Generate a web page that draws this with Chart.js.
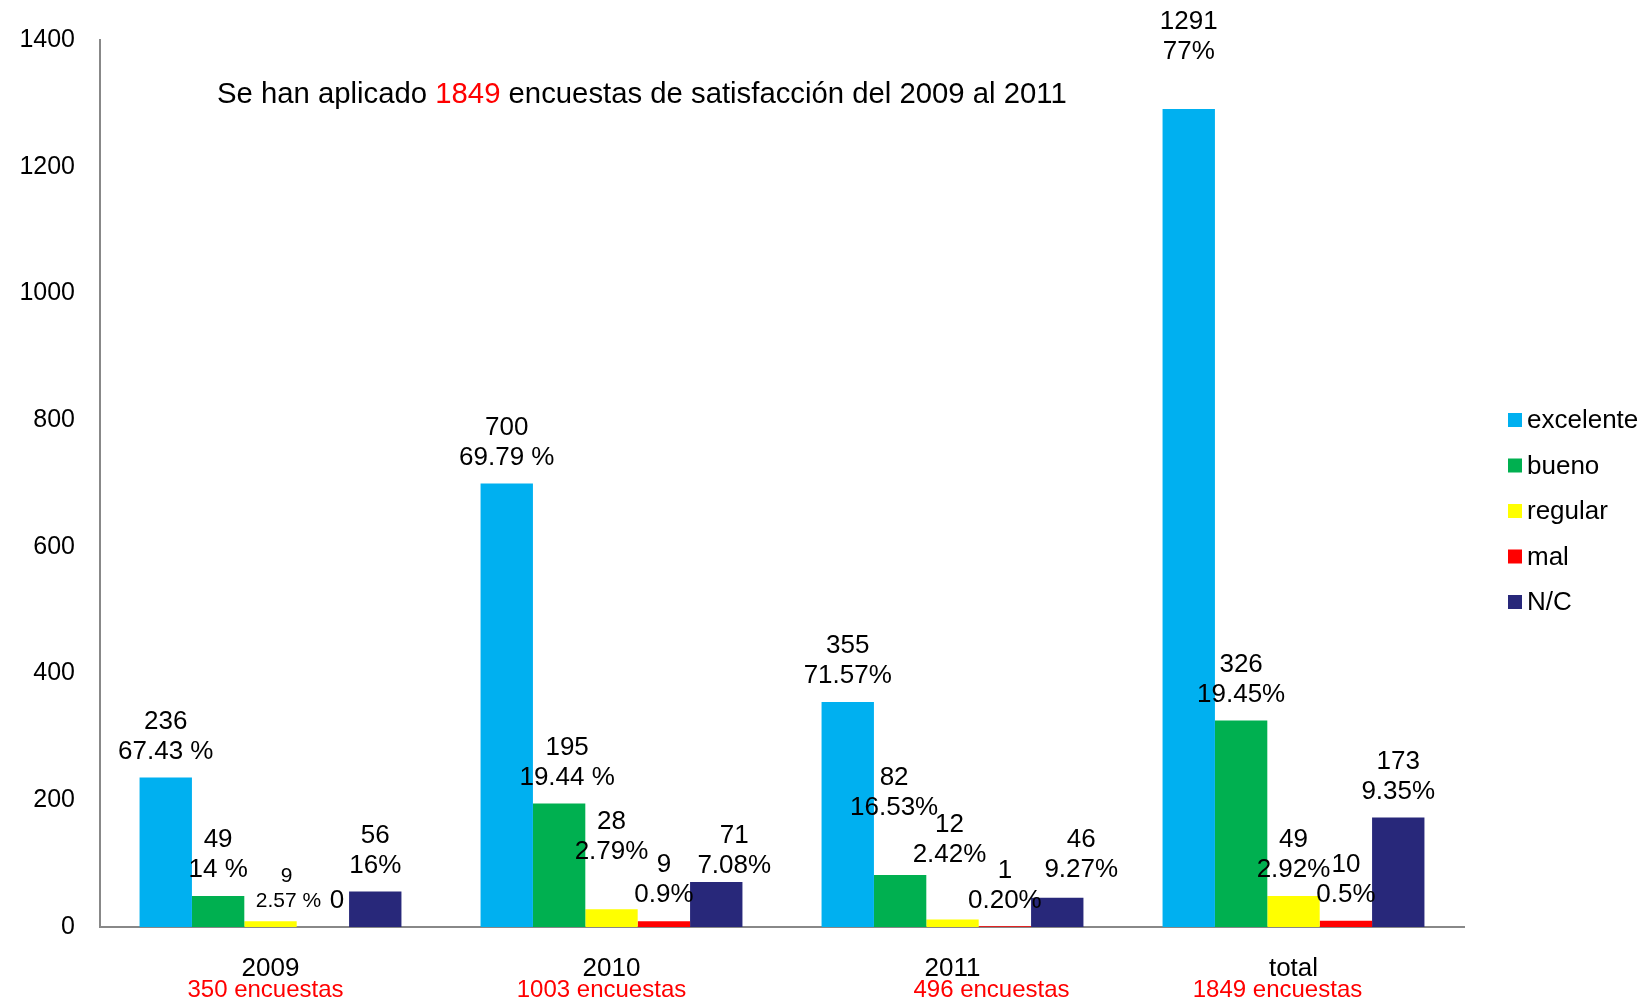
<!DOCTYPE html>
<html>
<head>
<meta charset="utf-8">
<script src="https://cdn.jsdelivr.net/npm/chart.js@4.4.1/dist/chart.umd.min.js"></script>
<style>
  body { margin: 0; background: #fff; }
  canvas { display: block; }
</style>
</head>
<body>
<canvas id="encuestasChart" width="1646" height="1002"></canvas>
<script>
// data
var categories = ["2009", "2010", "2011", "total"];
var encuestas = ["350 encuestas", "1003 encuestas", "496 encuestas", "1849 encuestas"];

var excelente = [236, 700, 355, 1291];
var bueno = [49, 195, 82, 326];
var regular = [9, 28, 12, 49];
var mal = [0, 9, 1, 10];
var nc = [56, 71, 46, 173];

var excelentePct = ["67.43 %", "69.79 %", "71.57%", "77%"];
var buenoPct = ["14 %", "19.44 %", "16.53%", "19.45%"];
var regularPct = ["2.57 %", "2.79%", "2.42%", "2.92%"];
var malPct = ["", "0.9%", "0.20%", "0.5%"];
var ncPct = ["16%", "7.08%", "9.27%", "9.35%"];

var yTicks = [0, 200, 400, 600, 800, 1000, 1200, 1400];

var FONT = '"Liberation Sans", Arial, sans-serif';

// hand placed labels in the original, [dx, dy]
var nudges = {
    "2,0": [20, 0],
    "3,0": [14, 0],
    "1,1": [8, 0],
    "2,1": [0, -31],
    "4,1": [18, 10],
    "1,2": [-6, -41],
    "2,2": [-3, -39],
    "4,2": [24, -2],
    "0,3": [0, -31]
};
var encuestasShift = [-5, -10, 39, -16];

var extrasPlugin = {
    id: "extras",
    afterDatasetsDraw: function(chart) {
        var ctx = chart.ctx;
        ctx.save();
        ctx.fillStyle = "#000";
        ctx.textAlign = "center";
        ctx.textBaseline = "middle";

        chart.data.datasets.forEach(function(ds, i) {
            var meta = chart.getDatasetMeta(i);
            meta.data.forEach(function(bar, j) {
                var n = nudges[i + "," + j] || [0, 0];
                var x = bar.x + n[0];
                var top = bar.y + n[1];
                var pct = ds.pcts[j];
                if (i === 2 && j === 0) {
                    ctx.font = "21px " + FONT;
                    ctx.fillText(ds.data[j], x - 4, top - 45);
                    ctx.fillText(pct, x - 2, top - 20);
                    return;
                }
                ctx.font = "26px " + FONT;
                if (pct === "") {
                    ctx.fillText(ds.data[j], x, top - 26);
                } else {
                    ctx.fillText(ds.data[j], x, top - 56);
                    ctx.fillText(pct, x, top - 26);
                }
            });
        });

        // red counts under the year labels
        var xScale = chart.scales.x;
        ctx.font = "24px " + FONT;
        ctx.fillStyle = "#FF0000";
        encuestas.forEach(function(txt, j) {
            ctx.fillText(txt, xScale.getPixelForValue(j) + encuestasShift[j], 990);
        });

        // title line
        ctx.font = "29.3px " + FONT;
        ctx.textAlign = "left";
        var parts = [["Se han aplicado ", "#000"], ["1849", "#FF0000"], [" encuestas de satisfacción del 2009 al 2011", "#000"]];
        var tx = 217;
        parts.forEach(function(p) {
            ctx.fillStyle = p[1];
            ctx.fillText(p[0], tx, 95);
            tx += ctx.measureText(p[0]).width;
        });

        // legend
        ctx.font = "26px " + FONT;
        chart.data.datasets.forEach(function(ds, i) {
            var cy = 420 + i * 45.5;
            ctx.fillStyle = ds.backgroundColor;
            ctx.fillRect(1508, cy - 7, 14, 14);
            ctx.fillStyle = "#000";
            ctx.fillText(ds.label, 1527, cy + 1);
        });
        ctx.restore();
    }
};

var ctx = document.getElementById("encuestasChart").getContext("2d");
var chart = new Chart(ctx, {
    type: "bar",
    data: {
        labels: categories,
        datasets: [
            { label: "excelente", data: excelente, pcts: excelentePct, backgroundColor: "#00B0F0" },
            { label: "bueno", data: bueno, pcts: buenoPct, backgroundColor: "#00B050" },
            { label: "regular", data: regular, pcts: regularPct, backgroundColor: "#FFFF00" },
            { label: "mal", data: mal, pcts: malPct, backgroundColor: "#FF0000" },
            { label: "N/C", data: nc, pcts: ncPct, backgroundColor: "#28287A" }
        ]
    },
    options: {
        responsive: false,
        animation: false,
        layout: { padding: { left: 0, top: 40, right: 182, bottom: 0 } },
        datasets: {
            bar: { categoryPercentage: 0.768, barPercentage: 1, borderWidth: 0 }
        },
        plugins: {
            legend: { display: false },
            tooltip: { enabled: false }
        },
        scales: {
            x: {
                grid: { display: false, drawTicks: false },
                border: { display: true, color: "#888888", width: 2 },
                ticks: { color: "#000", font: { family: FONT, size: 26 }, padding: 26 },
                afterFit: function(scale) { scale.height = 75; }
            },
            y: {
                min: 0,
                max: 1400,
                grid: { display: false, drawTicks: false },
                border: { display: true, color: "#888888", width: 2 },
                afterBuildTicks: function(scale) {
                    scale.ticks = yTicks.map(function(v) { return { value: v }; });
                },
                ticks: {
                    color: "#000",
                    font: { family: FONT, size: 25 },
                    padding: 25,
                    callback: function(value) { return String(value); }
                },
                afterFit: function(scale) { scale.width = 100; }
            }
        }
    },
    plugins: [extrasPlugin]
});
</script>
</body>
</html>
